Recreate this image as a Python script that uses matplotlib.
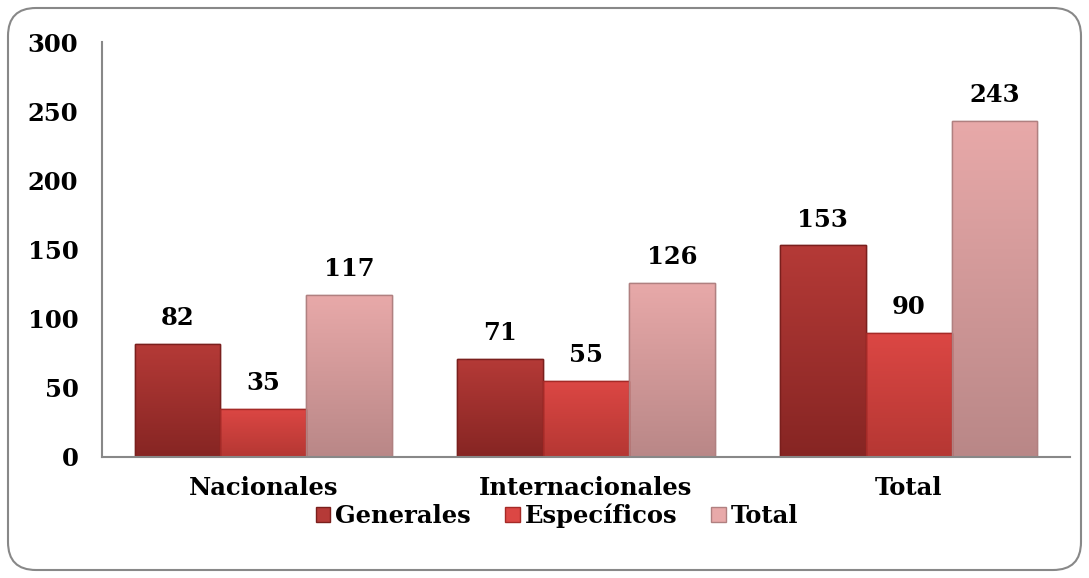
import matplotlib
matplotlib.use("Agg")
import matplotlib.pyplot as plt
import numpy as np
from matplotlib.patches import FancyBboxPatch
from matplotlib.colors import LinearSegmentedColormap

categories = ["Nacionales", "Internacionales", "Total"]
series_names = ["Generales", "Específicos", "Total"]
generales = [82, 71, 153]
especificos = [35, 55, 90]
total = [117, 126, 243]
yticks = [0, 50, 100, 150, 200, 250, 300]

colors = ["#a9302d", "#d8403c", "#dba3a3"]
tops = ["#b53a37", "#dc4744", "#e8a9a9"]
bottoms = ["#862523", "#b53733", "#b98787"]
edges = ["#7a1f1d", "#a52a27", "#b08080"]

plt.rcParams['font.family'] = ['DejaVu Serif']
plt.rcParams['font.weight'] = 'bold'
FS = 17.5

fig = plt.figure(figsize=(10.89, 5.78), dpi=100)
ax = fig.add_axes([102/1089, 1-457/578, (1070-102)/1089, (457-42)/578])

x = np.arange(len(categories))
w = 0.266
data = [generales, especificos, total]
grad = np.linspace(0, 1, 256).reshape(-1, 1)
for i, (vals, c, ec, name) in enumerate(zip(data, colors, edges, series_names)):
    pos = x + (i - 1) * w
    bars = ax.bar(pos, vals, width=w, color=c, edgecolor=ec, linewidth=1.0, label=name)
    cmap = LinearSegmentedColormap.from_list("g%d" % i, [bottoms[i], tops[i]])
    for b, v in zip(bars, vals):
        x0 = b.get_x()
        im = ax.imshow(grad, cmap=cmap, aspect='auto', origin='lower',
                       extent=(x0, x0 + b.get_width(), 0, v), zorder=b.get_zorder() + 0.1)
        im.set_clip_path(b)
        ax.bar(b.get_x() + b.get_width() / 2, v, width=b.get_width(), fill=False,
               edgecolor=ec, linewidth=1.0, zorder=b.get_zorder() + 0.2)
        ax.text(b.get_x() + b.get_width() / 2, v + 10, str(v), ha='center', va='bottom',
                fontsize=FS, fontweight='bold')

ax.set_xlim(-0.5, 2.5)
ax.set_ylim(0, 300)
ax.set_yticks(yticks)
ax.set_yticklabels([str(t) for t in yticks], fontsize=FS, fontweight='bold')
ax.set_xticks(x)
ax.set_xticklabels(categories, fontsize=FS, fontweight='bold')
ax.tick_params(axis='y', length=0, pad=17)
ax.tick_params(axis='x', length=0, pad=14)
for s in ['top', 'right']:
    ax.spines[s].set_visible(False)
ax.spines['left'].set_color('#888888')
ax.spines['bottom'].set_color('#888888')
ax.spines['left'].set_linewidth(1.5)
ax.spines['bottom'].set_linewidth(1.5)

leg = fig.legend(loc='center', bbox_to_anchor=(557/1089, 1-516/578), ncol=3, frameon=False,
                 prop={'size': FS, 'weight': 'bold'}, handlelength=0.6, handleheight=0.6,
                 handletextpad=0.2, columnspacing=1.4)
for h, t, b in zip(leg.legend_handles, tops, bottoms):
    h.set_facecolor(t)

border = FancyBboxPatch((0.08, 0.08), 10.89 - 0.16, 5.78 - 0.16,
                        boxstyle="round,pad=0,rounding_size=0.28", transform=fig.dpi_scale_trans,
                        facecolor='none', edgecolor='#888888', linewidth=1.5)
fig.patches.append(border)

fig.savefig("out.png", dpi=100)
